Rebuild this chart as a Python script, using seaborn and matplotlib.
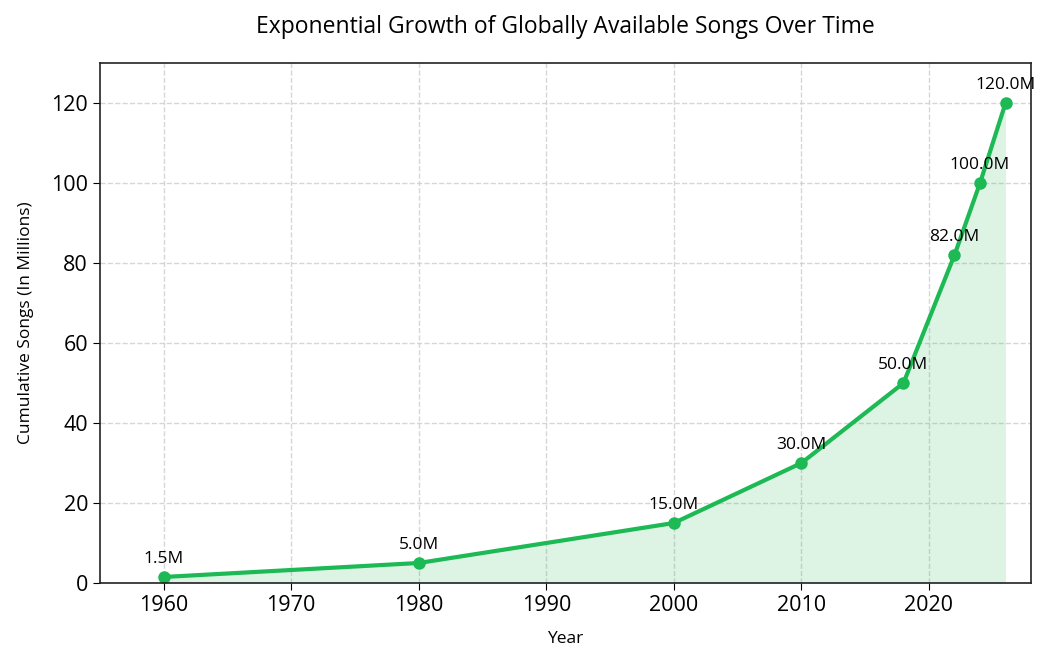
import matplotlib
matplotlib.use("Agg")
import matplotlib.pyplot as plt
import seaborn as sns
import pandas as pd

years = [1960, 1980, 2000, 2010, 2018, 2022, 2024, 2026]
songs_millions = [1.5, 5.0, 15.0, 30.0, 50.0, 82.0, 100.0, 120.0]

GREEN = '#1DB954'

sns.set_style('ticks')
plt.rcParams['font.family'] = ['Open Sans', 'DejaVu Sans']
plt.rcParams['text.color'] = 'black'
plt.rcParams['axes.labelcolor'] = 'black'
plt.rcParams['xtick.color'] = 'black'
plt.rcParams['ytick.color'] = 'black'

df = pd.DataFrame({'year': years, 'songs': songs_millions})

fig, ax = plt.subplots(figsize=(10.51, 6.64), dpi=100)
fig.subplots_adjust(left=0.095, right=0.981, top=0.905, bottom=0.122)

ax.fill_between(df['year'], df['songs'], color=GREEN, alpha=0.15, linewidth=0)
sns.lineplot(data=df, x='year', y='songs', ax=ax, color=GREEN, linewidth=3,
             marker='o', markersize=9, markeredgewidth=0)

for x, y in zip(df['year'], df['songs']):
    ax.annotate(f'{y:.1f}M', (x, y), textcoords='offset points', xytext=(0, 10),
                ha='center', fontsize=12.5)

ax.set_xlim(1955, 2028)
ax.set_ylim(0, 130)
ax.grid(True, linestyle='--', color='#cccccc', alpha=0.8, linewidth=1)
ax.set_axisbelow(True)
ax.tick_params(labelsize=15.5, length=5)
for s in ax.spines.values():
    s.set_linewidth(1.2)
    s.set_color('#222222')

ax.set_title('Exponential Growth of Globally Available Songs Over Time', fontsize=16.5, pad=22)
ax.set_xlabel('Year', fontsize=12.5, labelpad=11)
ax.set_ylabel('Cumulative Songs (In Millions)', fontsize=12.5, labelpad=12)

fig.savefig('out.png', dpi=100)
